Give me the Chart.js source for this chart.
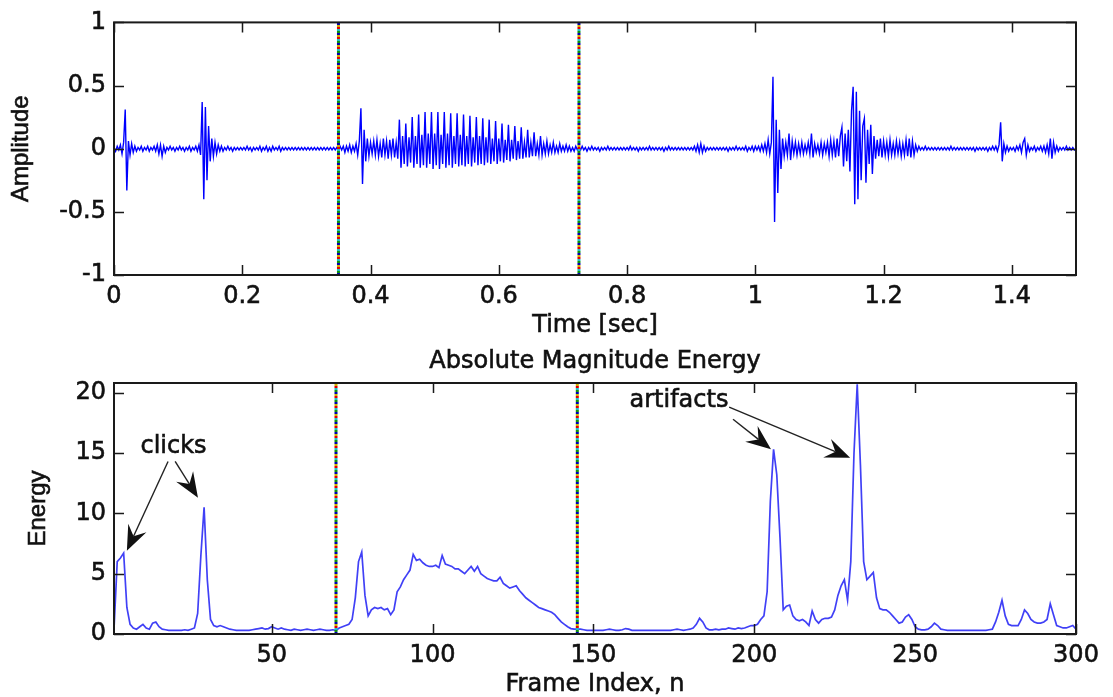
<!DOCTYPE html>
<html>
<head>
<meta charset="utf-8">
<title>Absolute Magnitude Energy</title>
<script src="https://cdn.jsdelivr.net/npm/chart.js@4.4.1/dist/chart.umd.min.js"></script>
<style>
  body { margin: 0; background: #fff; }
  #page { position: relative; width: 1113px; height: 697px; background: #fff; overflow: hidden; }
  canvas { position: absolute; left: 0; }
  #wave { top: 0; }
  #energy { top: 335px; }
</style>
</head>
<body>
<div id="page">
  <canvas id="wave" width="1113" height="340"></canvas>
  <canvas id="energy" width="1113" height="362"></canvas>
</div>
<script>
// waveform samples, one every 2.5 ms
const sampleStep = 0.0025;
const amplitude = [
  0.01, -0.02, 0.02, -0.01, 0.03, -0.04, 0.05, 0.31, -0.33, 0.06,
  -0.05, 0.04, -0.03, 0.02, -0.02, 0.01, -0.01, 0.02, -0.02, 0.01,
  -0.01, 0.02, -0.02, 0.01, -0.01, 0.02, -0.02, 0.03, -0.04, 0.03,
  -0.06, 0.02, -0.03, 0.01, -0.01, 0.02, -0.01, 0.01, -0.02, 0.01,
  -0.01, 0.02, -0.01, 0.01, -0.02, 0.01, -0.01, 0.02, -0.02, 0.01,
  -0.01, 0.02, -0.02, 0.03, -0.05, 0.37, -0.40, 0.33, -0.25, 0.18,
  -0.10, 0.08, -0.06, 0.05, -0.04, 0.03, -0.02, 0.02, -0.02, 0.01,
  -0.01, 0.02, -0.01, 0.01, -0.02, 0.01, -0.01, 0.01, -0.01, 0.01,
  -0.01, 0.01, -0.01, 0.02, -0.01, 0.01, -0.02, 0.01, -0.01, 0.01,
  -0.01, 0.02, -0.02, 0.01, -0.01, 0.02, -0.02, 0.01, -0.02, 0.02,
  -0.01, 0.01, -0.01, 0.02, -0.02, 0.01, -0.01, 0.01, -0.01, 0.01,
  -0.01, 0.01, -0.01, 0.01, -0.01, 0.01, -0.01, 0.01, -0.01, 0.01,
  -0.01, 0.01, -0.01, 0.01, -0.01, 0.01, -0.01, 0.01, -0.01, 0.01,
  -0.01, 0.01, -0.01, 0.01, -0.01, 0.01, -0.01, 0.01, -0.01, 0.01,
  -0.02, 0.02, -0.01, 0.02, -0.03, 0.02, -0.02, 0.03, -0.03, 0.02,
  -0.02, 0.04, -0.05, 0.06, 0.32, -0.28, 0.15, -0.10, 0.08, -0.06,
  0.05, -0.04, 0.06, -0.05, 0.07, -0.06, 0.04, -0.07, 0.08, -0.05,
  0.06, -0.08, 0.07, -0.05, 0.08, -0.07, 0.05, -0.08, 0.23, -0.15,
  0.10, -0.12, 0.20, -0.14, 0.09, -0.11, 0.25, -0.15, 0.10, -0.12,
  0.27, -0.15, 0.11, -0.13, 0.29, -0.15, 0.12, -0.12, 0.29, -0.16,
  0.12, -0.13, 0.29, -0.16, 0.11, -0.12, 0.29, -0.15, 0.12, -0.13,
  0.28, -0.15, 0.10, -0.12, 0.28, -0.14, 0.11, -0.13, 0.27, -0.14,
  0.10, -0.12, 0.26, -0.14, 0.09, -0.11, 0.25, -0.13, 0.10, -0.12,
  0.24, -0.13, 0.09, -0.11, 0.23, -0.12, 0.08, -0.10, 0.22, -0.12,
  0.08, -0.10, 0.20, -0.11, 0.07, -0.09, 0.19, -0.10, 0.07, -0.08,
  0.18, -0.09, 0.06, -0.08, 0.17, -0.08, 0.05, -0.07, 0.15, -0.07,
  0.05, -0.06, 0.13, -0.06, 0.04, -0.05, 0.10, -0.05, 0.04, -0.04,
  0.06, -0.04, 0.03, -0.03, 0.05, -0.03, 0.02, -0.03, 0.04, -0.02,
  0.02, -0.02, 0.03, -0.02, 0.02, -0.02, 0.01, -0.02, 0.02, -0.01,
  0.01, -0.01, 0.02, -0.01, 0.01, -0.02, 0.01, -0.01, 0.02, -0.01,
  0.01, -0.01, 0.01, -0.02, 0.01, -0.01, 0.01, -0.01, 0.02, -0.01,
  0.01, -0.01, 0.01, -0.01, 0.01, -0.01, 0.01, -0.01, 0.01, -0.01,
  0.01, -0.01, 0.02, -0.01, 0.01, -0.01, 0.01, -0.02, 0.01, -0.01,
  0.01, -0.01, 0.01, -0.01, 0.02, -0.01, 0.01, -0.01, 0.01, -0.01,
  0.01, -0.01, 0.01, -0.02, 0.01, -0.01, 0.02, -0.01, 0.01, -0.01,
  0.01, -0.01, 0.01, -0.01, 0.01, -0.01, 0.01, -0.01, 0.01, -0.01,
  0.01, -0.01, 0.02, -0.02, 0.03, -0.03, 0.04, -0.03, 0.02, -0.02,
  0.01, -0.01, 0.01, -0.01, 0.01, -0.01, 0.01, -0.01, 0.01, -0.01,
  0.01, -0.01, 0.01, -0.02, 0.01, -0.01, 0.01, -0.01, 0.02, -0.01,
  0.01, -0.01, 0.01, -0.01, 0.02, -0.02, 0.01, -0.01, 0.02, -0.02,
  0.02, -0.01, 0.02, -0.02, 0.03, -0.02, 0.04, -0.03, 0.07, -0.04,
  0.05, 0.57, -0.58, 0.23, -0.35, 0.15, -0.16, 0.08, -0.06, 0.05,
  -0.05, 0.12, -0.09, 0.06, -0.04, 0.05, -0.05, 0.04, -0.04, 0.05,
  -0.04, 0.03, -0.03, 0.05, -0.04, 0.12, -0.07, 0.04, -0.03, 0.03,
  -0.04, 0.05, -0.05, 0.04, -0.03, 0.05, -0.06, 0.07, -0.05, 0.06,
  -0.07, 0.08, -0.06, 0.10, 0.17, -0.14, 0.12, -0.10, 0.15, -0.18,
  0.30, 0.49, -0.44, 0.45, -0.40, 0.30, -0.25, 0.18, 0.24, -0.27,
  0.15, -0.12, 0.19, -0.20, 0.10, -0.08, 0.07, -0.06, 0.08, -0.07,
  0.06, -0.05, 0.05, -0.06, 0.07, -0.05, 0.04, -0.05, 0.06, -0.04,
  0.05, -0.06, 0.04, -0.05, 0.07, -0.06, 0.08, -0.07, 0.06, -0.05,
  0.03, -0.02, 0.02, -0.01, 0.01, -0.01, 0.02, -0.01, 0.01, -0.01,
  0.01, -0.01, 0.01, -0.01, 0.01, -0.01, 0.01, -0.01, 0.01, -0.01,
  0.01, -0.01, 0.02, -0.01, 0.01, -0.01, 0.01, -0.01, 0.01, -0.01,
  0.01, -0.01, 0.01, -0.01, 0.01, -0.01, 0.01, -0.02, 0.01, -0.01,
  0.01, -0.01, 0.01, -0.01, 0.01, -0.02, 0.01, -0.01, 0.02, -0.01,
  0.02, -0.02, 0.03, 0.21, -0.10, 0.04, -0.03, 0.02, -0.02, 0.01,
  -0.01, 0.01, -0.02, 0.02, -0.01, 0.03, -0.03, 0.05, 0.08, -0.05,
  0.03, -0.02, 0.01, -0.01, 0.02, -0.02, 0.01, -0.01, 0.02, -0.02,
  0.02, -0.03, 0.03, -0.04, 0.08, -0.08, 0.05, -0.03, 0.02, -0.02,
  0.01, -0.01, 0.01, -0.01, 0.02, -0.01, 0.01, -0.01, 0.01, -0.01,
  0.00
];

// energy per frame, frames 1..300
const frameEnergy = [
  0.4, 6.0, 6.3, 6.7, 2.2, 0.8, 0.5, 0.4, 0.6, 0.8,
  0.5, 0.4, 0.9, 1.0, 0.6, 0.4, 0.35, 0.3, 0.3, 0.3,
  0.3, 0.3, 0.35, 0.3, 0.4, 0.5, 1.7, 6.5, 10.5, 4.5,
  1.2, 0.7, 0.6, 0.7, 0.6, 0.5, 0.4, 0.35, 0.3, 0.3,
  0.3, 0.3, 0.3, 0.35, 0.4, 0.45, 0.5, 0.4, 0.45, 0.6,
  0.5, 0.4, 0.5, 0.4, 0.35, 0.3, 0.4, 0.35, 0.3, 0.35,
  0.4, 0.35, 0.3, 0.35, 0.4, 0.35, 0.3, 0.3, 0.35, 0.3,
  0.5, 0.6, 0.7, 0.8, 1.2, 3.0, 6.0, 6.8, 3.2, 1.5,
  2.0, 2.2, 2.1, 2.2, 2.0, 2.1, 1.6, 2.0, 3.5, 3.9,
  4.5, 4.9, 5.3, 6.6, 6.1, 6.2, 5.9, 5.7, 5.6, 5.6,
  5.7, 5.5, 6.5, 5.8, 5.7, 5.6, 5.4, 5.4, 5.2, 5.0,
  5.3, 5.6, 5.2, 5.6, 5.0, 4.8, 4.6, 4.5, 4.4, 4.4,
  4.7, 4.2, 4.0, 3.8, 3.9, 4.0, 3.6, 3.3, 3.0, 2.8,
  2.6, 2.4, 2.2, 2.1, 2.0, 1.9, 1.8, 1.6, 1.3, 1.0,
  0.8, 0.6, 0.45, 0.4, 0.4, 0.4, 0.35, 0.3, 0.3, 0.3,
  0.3, 0.3, 0.3, 0.35, 0.4, 0.35, 0.3, 0.3, 0.35, 0.45,
  0.4, 0.3, 0.3, 0.3, 0.3, 0.3, 0.3, 0.3, 0.3, 0.3,
  0.3, 0.3, 0.3, 0.3, 0.35, 0.4, 0.35, 0.3, 0.35, 0.4,
  0.5, 0.8, 1.3, 1.0, 0.5, 0.35, 0.35, 0.4, 0.35, 0.4,
  0.4, 0.5, 0.45, 0.4, 0.5, 0.45, 0.5, 0.6, 0.7, 0.7,
  0.8, 1.2, 1.5, 3.5, 11.0, 15.3, 13.2, 8.0, 2.0, 2.3,
  2.4, 1.5, 1.2, 1.1, 1.2, 1.0, 0.7, 1.9, 1.2, 0.9,
  1.2, 1.3, 1.3, 1.4, 2.0, 3.2, 4.0, 4.5, 2.8, 6.0,
  15.0, 20.7, 14.0, 6.0, 4.5, 4.8, 5.1, 3.0, 2.1, 2.0,
  2.0, 1.8, 1.5, 1.2, 0.9, 1.0, 1.4, 1.6, 1.2, 0.6,
  0.4, 0.35, 0.35, 0.4, 0.6, 0.9, 0.7, 0.4, 0.35, 0.3,
  0.3, 0.3, 0.3, 0.3, 0.3, 0.3, 0.3, 0.3, 0.3, 0.3,
  0.3, 0.3, 0.35, 0.4, 1.0, 1.8, 2.8, 1.5, 0.8, 0.7,
  0.7, 0.7, 1.2, 2.0, 1.7, 1.2, 1.0, 0.9, 0.9, 1.0,
  1.2, 2.5, 1.6, 0.7, 0.6, 0.5, 0.5, 0.6, 0.7, 0.4
];

const timeTicks = [0, 0.2, 0.4, 0.6, 0.8, 1, 1.2, 1.4];
const ampTicks = [-1, -0.5, 0, 0.5, 1];
const frameTicks = [50, 100, 150, 200, 250, 300];
const energyTicks = [0, 5, 10, 15, 20];

// speech start / end markers
const boundaryTimes = [0.35, 0.725];
const boundaryFrames = [70, 145];

const timeRange = [0, 1.5];
const ampRange = [-1, 1];
const frameRange = [1, 300];
const energyRange = [0, 20.8];

const noteLabels = [
  { text: "clicks", frame: 19.5, energy: 15.5 },
  { text: "artifacts", frame: 176.6, energy: 19.3 }
];
const noteArrows = [
  { from: [17.8, 14.3], to: [5.0, 6.9] },
  { from: [20.0, 14.3], to: [27.1, 11.3] },
  { from: [193.4, 17.8], to: [205.2, 15.3] },
  { from: [192.2, 18.8], to: [229.8, 14.6] }
];

const FONT = "'DejaVu Sans', Arial, sans-serif";
const dotColors = ["#0000b0", "#d0b000", "#e00000", "#20c0c0", "#109010"];

Chart.defaults.font.family = FONT;
Chart.defaults.font.size = 24;
Chart.defaults.color = "#111";

function markerSets(positions, lo, hi) {
  const sets = [];
  positions.forEach((p) => {
    dotColors.forEach((c, k) => {
      sets.push({
        data: [{ x: p, y: lo }, { x: p, y: hi }],
        borderColor: c,
        borderWidth: 3,
        borderDash: [2, 8],
        borderDashOffset: k * 2,
        borderCapStyle: "butt",
        pointRadius: 0,
        order: 1
      });
    });
  });
  return sets;
}

function heavyText(ctx, text, x, y) {
  ctx.fillText(text, x, y);
  ctx.strokeText(text, x, y);
}

// box, inward ticks and axis labels like the original figure
const matlabFrame = {
  id: "matlabFrame",
  afterDatasetsDraw(chart, args, opts) {
    const { ctx, chartArea: a, scales } = chart;
    ctx.save();
    ctx.strokeStyle = "#1a1a1a";
    ctx.lineWidth = 1.5;
    ctx.beginPath();
    scales.x.ticks.forEach((t) => {
      const px = Math.round(scales.x.getPixelForValue(t.value)) + 0.5;
      ctx.moveTo(px, a.bottom); ctx.lineTo(px, a.bottom - 10);
      ctx.moveTo(px, a.top); ctx.lineTo(px, a.top + 10);
    });
    scales.y.ticks.forEach((t) => {
      const py = Math.round(scales.y.getPixelForValue(t.value)) + 0.5;
      ctx.moveTo(a.left, py); ctx.lineTo(a.left + 10, py);
      ctx.moveTo(a.right, py); ctx.lineTo(a.right - 10, py);
    });
    ctx.stroke();
    ctx.lineWidth = 2;
    ctx.strokeRect(a.left, a.top, a.right - a.left, a.bottom - a.top);

    ctx.fillStyle = "#111";
    ctx.strokeStyle = "#111";
    ctx.lineWidth = 0.6;
    ctx.textAlign = "center";
    ctx.textBaseline = "alphabetic";
    ctx.font = "24px " + FONT;
    const cx = (a.left + a.right) / 2;
    heavyText(ctx, opts.xTitle, cx, a.bottom + opts.xTitleGap);
    if (opts.title) heavyText(ctx, opts.title, cx, a.top - opts.titleGap);

    ctx.save();
    ctx.font = "24px 'Liberation Sans', Arial, sans-serif";
    ctx.translate(opts.yTitleX, (a.top + a.bottom) / 2);
    ctx.rotate(-Math.PI / 2);
    ctx.textBaseline = "middle";
    heavyText(ctx, opts.yTitle, 0, 0);
    ctx.restore();
    ctx.restore();
  }
};

function drawArrow(ctx, x0, y0, x1, y1) {
  const ang = Math.atan2(y1 - y0, x1 - x0);
  const len = 25, half = 10, notch = 16;
  const bx = x1 - len * Math.cos(ang), by = y1 - len * Math.sin(ang);
  const nx = x1 - notch * Math.cos(ang), ny = y1 - notch * Math.sin(ang);
  const px = -Math.sin(ang) * half, py = Math.cos(ang) * half;
  ctx.beginPath();
  ctx.moveTo(x0, y0);
  ctx.lineTo(nx, ny);
  ctx.stroke();
  ctx.beginPath();
  ctx.moveTo(x1, y1);
  ctx.lineTo(bx + px, by + py);
  ctx.lineTo(nx, ny);
  ctx.lineTo(bx - px, by - py);
  ctx.closePath();
  ctx.fill();
}

const notesPlugin = {
  id: "notes",
  afterDraw(chart) {
    const { ctx, scales } = chart;
    ctx.save();
    ctx.fillStyle = "#111";
    ctx.strokeStyle = "#111";
    ctx.lineWidth = 0.6;
    ctx.font = "24px " + FONT;
    ctx.textAlign = "center";
    ctx.textBaseline = "middle";
    noteLabels.forEach((n) => {
      heavyText(ctx, n.text, scales.x.getPixelForValue(n.frame), scales.y.getPixelForValue(n.energy));
    });
    ctx.strokeStyle = "#222";
    ctx.lineWidth = 1.4;
    noteArrows.forEach((ar) => {
      drawArrow(ctx,
        scales.x.getPixelForValue(ar.from[0]), scales.y.getPixelForValue(ar.from[1]),
        scales.x.getPixelForValue(ar.to[0]), scales.y.getPixelForValue(ar.to[1]));
    });
    ctx.restore();
  }
};

const tickText = { textStrokeColor: "#111", textStrokeWidth: 0.6 };

function axisX(range, ticks, height) {
  return {
    type: "linear",
    min: range[0],
    max: range[1],
    grid: { display: false, drawTicks: false },
    border: { display: false },
    afterBuildTicks: (s) => { s.ticks = ticks.map((v) => ({ value: v })); },
    afterFit: (s) => { s.height = height; },
    ticks: { ...tickText, padding: 7, maxRotation: 0, autoSkip: false, callback: (v) => String(v) }
  };
}

function axisY(range, ticks) {
  return {
    type: "linear",
    min: range[0],
    max: range[1],
    grid: { display: false, drawTicks: false },
    border: { display: false },
    afterBuildTicks: (s) => { s.ticks = ticks.map((v) => ({ value: v })); },
    afterFit: (s) => { s.width = 114; },
    ticks: { ...tickText, padding: 8, autoSkip: false, callback: (v) => String(v) }
  };
}

const baseOptions = {
  responsive: false,
  animation: false,
  devicePixelRatio: 1,
  events: [],
  plugins: { legend: { display: false }, tooltip: { enabled: false } }
};

new Chart(document.getElementById("wave"), {
  type: "line",
  data: {
    datasets: [
      {
        data: amplitude.map((v, i) => ({ x: i * sampleStep, y: v })),
        borderColor: "#0000ff",
        borderWidth: 1.4,
        pointRadius: 0,
        tension: 0,
        order: 2
      },
      ...markerSets(boundaryTimes, ampRange[0], ampRange[1])
    ]
  },
  options: {
    ...baseOptions,
    layout: { padding: { top: 22, right: 37, left: 0, bottom: 0 } },
    scales: { x: axisX(timeRange, timeTicks, 65), y: axisY(ampRange, ampTicks) },
    plugins: {
      ...baseOptions.plugins,
      matlabFrame: { xTitle: "Time [sec]", xTitleGap: 57, yTitle: "Amplitude", yTitleX: 21 }
    }
  },
  plugins: [matlabFrame]
});

new Chart(document.getElementById("energy"), {
  type: "line",
  data: {
    datasets: [
      {
        data: frameEnergy.map((v, i) => ({ x: i + 1, y: v })),
        borderColor: "rgba(30,30,245,0.85)",
        borderWidth: 1.7,
        pointRadius: 0,
        tension: 0,
        order: 2
      },
      ...markerSets(boundaryFrames, energyRange[0], energyRange[1])
    ]
  },
  options: {
    ...baseOptions,
    layout: { padding: { top: 48, right: 37, left: 0, bottom: 0 } },
    scales: { x: axisX(frameRange, frameTicks, 63), y: axisY(energyRange, energyTicks) },
    plugins: {
      ...baseOptions.plugins,
      matlabFrame: {
        xTitle: "Frame Index, n", xTitleGap: 57, yTitle: "Energy", yTitleX: 38,
        title: "Absolute Magnitude Energy", titleGap: 15
      }
    }
  },
  plugins: [matlabFrame, notesPlugin]
});
</script>
</body>
</html>
